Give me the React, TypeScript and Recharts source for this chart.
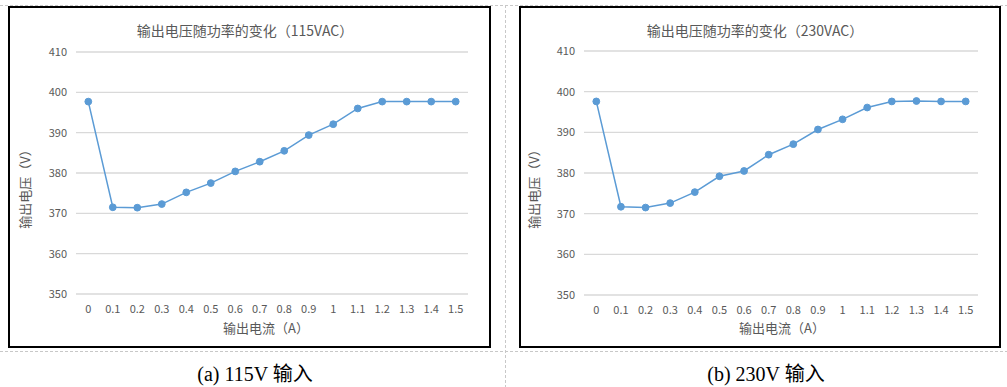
import React from "react";
import { LineChart, Line, XAxis, YAxis, CartesianGrid } from "recharts";

const categories = ["0", "0.1", "0.2", "0.3", "0.4", "0.5", "0.6", "0.7", "0.8", "0.9", "1", "1.1", "1.2", "1.3", "1.4", "1.5"];
const v115 = [397.7, 371.5, 371.4, 372.3, 375.2, 377.5, 380.4, 382.8, 385.5, 389.4, 392.1, 396.0, 397.7, 397.7, 397.7, 397.7];
const v230 = [397.6, 371.7, 371.5, 372.6, 375.3, 379.2, 380.5, 384.5, 387.1, 390.7, 393.2, 396.1, 397.6, 397.7, 397.6, 397.6];
const yTicks = [350, 360, 370, 380, 390, 400, 410];
const titles = ["输出电压随功率的变化（115VAC）", "输出电压随功率的变化（230VAC）"];
const xTitle = "输出电流（A）";
const yTitle = "输出电压（V）";
const captions = ["(a) 115V 输入", "(b) 230V 输入"];

const FONT = "'Noto Sans CJK SC', 'Noto Sans', sans-serif";
const BLUE = "#5B9BD5";
const GREY = "#595959";

const data115 = categories.map((c, i) => ({ x: c, v: v115[i] }));
const data230 = categories.map((c, i) => ({ x: c, v: v230[i] }));

type PanelProps = {
  data: { x: string; v: number }[];
  left: number;
  top: number;
  width: number;
  height: number;
  margin: { top: number; right: number; bottom: number; left: number };
  title: string;
  titleX: number;
  xTitleX: number;
  yTitleX: number;
};

function Panel(p: PanelProps) {
  return (
    <>
      <div
        style={{
          position: "absolute",
          left: p.left,
          top: p.top,
          width: p.width,
          height: p.height,
          border: "2px solid #000",
          boxSizing: "border-box",
        }}
      />
      <div style={{ position: "absolute", left: p.left, top: p.top }}>
        <LineChart width={p.width} height={p.height} data={p.data} margin={p.margin}>
          <CartesianGrid vertical={false} stroke="#D9D9D9" strokeWidth={1.3} />
          <XAxis
            dataKey="x"
            axisLine={false}
            tickLine={false}
            tickSize={0}
            tickMargin={11}
            height={30}
            interval={0}
            padding={{ left: 12.3, right: 12.3 }}
            tick={{ fill: GREY, fontSize: 11, fontFamily: FONT }}
          />
          <YAxis
            domain={[350, 410]}
            ticks={yTicks}
            axisLine={false}
            tickLine={false}
            tickSize={0}
            tickMargin={9}
            width={60}
            interval={0}
            tick={{ fill: GREY, fontSize: 11, fontFamily: FONT }}
          />
          <Line
            dataKey="v"
            stroke={BLUE}
            strokeWidth={1.5}
            dot={{ r: 3.4, fill: BLUE, stroke: BLUE, strokeWidth: 1 }}
            isAnimationActive={false}
          />
        </LineChart>
      </div>
      <div
        style={{
          position: "absolute",
          left: p.titleX,
          top: 30,
          transform: "translate(-50%, -50%)",
          whiteSpace: "nowrap",
          fontFamily: FONT,
          fontSize: 14,
          color: GREY,
        }}
      >
        {p.title}
      </div>
      <div
        style={{
          position: "absolute",
          left: p.xTitleX,
          top: 327,
          transform: "translate(-50%, -50%)",
          whiteSpace: "nowrap",
          fontFamily: FONT,
          fontSize: 13,
          color: GREY,
        }}
      >
        {xTitle}
      </div>
      <div
        style={{
          position: "absolute",
          left: p.yTitleX,
          top: 186,
          transform: "translate(-50%, -50%) rotate(-90deg)",
          whiteSpace: "nowrap",
          fontFamily: FONT,
          fontSize: 13,
          color: GREY,
        }}
      >
        {yTitle}
      </div>
    </>
  );
}

const captionStyle: React.CSSProperties = {
  position: "absolute",
  top: 372,
  transform: "translate(-50%, -50%)",
  whiteSpace: "nowrap",
  fontFamily: "'Liberation Serif', 'Noto Sans CJK SC', serif",
  fontSize: 20,
  color: "#000",
};

export default function App() {
  return (
    <div
      style={{
        position: "absolute",
        left: 0,
        top: 0,
        width: 1007,
        height: 387,
        background: "#fff",
        overflow: "hidden",
      }}
    >
      <svg width={1007} height={387} style={{ position: "absolute", left: 0, top: 0 }}>
        <line x1={0} y1={5.5} x2={1007} y2={5.5} stroke="#C8C8C8" strokeDasharray="3 2" />
        <line x1={0} y1={351.5} x2={1007} y2={351.5} stroke="#C8C8C8" strokeDasharray="3 2" />
        <line x1={505.5} y1={5} x2={505.5} y2={387} stroke="#C8C8C8" strokeDasharray="3 2" />
      </svg>
      <Panel
        data={data115}
        left={8}
        top={6}
        width={483}
        height={342}
        margin={{ top: 46, right: 23, bottom: 24, left: 8 }}
        title={titles[0]}
        titleX={245}
        xTitleX={266}
        yTitleX={24}
      />
      <Panel
        data={data230}
        left={519}
        top={6}
        width={482}
        height={342}
        margin={{ top: 45, right: 23, bottom: 23, left: 5 }}
        title={titles[1]}
        titleX={755}
        xTitleX={782}
        yTitleX={533}
      />
      <div style={{ ...captionStyle, left: 255 }}>{captions[0]}</div>
      <div style={{ ...captionStyle, left: 766 }}>{captions[1]}</div>
    </div>
  );
}
